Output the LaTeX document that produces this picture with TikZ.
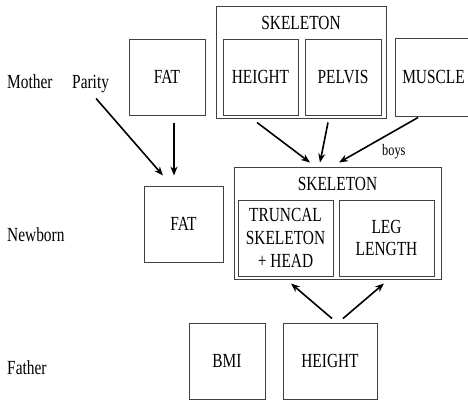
\documentclass[tikz,border=0pt]{standalone}
\usepackage{fontspec}
\setmainfont{Liberation Serif}[FakeStretch=0.77]
\usetikzlibrary{arrows.meta}
\tikzset{
  box/.style={draw=black!75, line width=1pt, inner sep=0pt, align=center,
    font=\fontsize{20}{23.3}\selectfont},
  lbl/.style={inner sep=0pt, font=\fontsize{20}{23.3}\selectfont},
  small/.style={inner sep=0pt, font=\fontsize{16}{18}\selectfont},
  arr/.style={line width=1.6pt, -{Stealth[length=9pt,width=7pt]}}
}
\begin{document}
\begin{tikzpicture}[x=1pt,y=-1pt]
\clip (0,0) rectangle (468,400);
% Mother row
\node[box, minimum width=76pt, minimum height=76pt] (mfat) at (167,77) {FAT};
\node[box, minimum width=170pt, minimum height=112pt] (mskel) at (301,62) {};
\node[lbl, anchor=base] (mskeltxt) at (301,29) {SKELETON};
\node[box, minimum width=75pt, minimum height=76pt] (mheight) at (260.5,77) {HEIGHT};
\node[box, minimum width=76pt, minimum height=76pt] (mpelvis) at (343,77) {PELVIS};
\node[box, minimum width=77pt, minimum height=78pt] (mmuscle) at (433.5,77) {MUSCLE};
% Newborn row
\node[box, minimum width=79pt, minimum height=76pt] (nfat) at (183.5,224) {FAT};
\node[box, minimum width=207pt, minimum height=112pt] (nskel) at (337.5,223) {};
\node[lbl, anchor=base] (nskeltxt) at (337.5,190) {SKELETON};
\node[box, minimum width=95pt, minimum height=76pt] (trunc) at (285.5,238) {TRUNCAL\\SKELETON\\+ HEAD};
\node[box, minimum width=95pt, minimum height=76pt, font=\fontsize{20}{22}\selectfont] (leg) at (386.5,238) {LEG\\LENGTH};
% Father row
\node[box, minimum width=76pt, minimum height=76pt] (bmi) at (227,361) {BMI};
\node[box, minimum width=94pt, minimum height=76pt] (fheight) at (330,361) {HEIGHT};
% Row labels
\node[lbl, anchor=base west] (mother) at (7,88) {Mother};
\node[lbl, anchor=base west] (parity) at (72,88) {Parity};
\node[lbl, anchor=base west] (newborn) at (7,241) {Newborn};
\node[lbl, anchor=base west] (father) at (7,374) {Father};
\node[small, anchor=base west] (boys) at (382,155) {boys};
% Arrows
\draw[arr] ([xshift=5.5pt,yshift=-6pt]parity.south) -- ([xshift=-20.5pt,yshift=10pt]nfat.north);
\draw[arr] ([xshift=7pt,yshift=-7pt]mfat.south) -- ([xshift=-9.5pt,yshift=10pt]nfat.north);
\draw[arr] ([xshift=-3.5pt,yshift=-7pt]mheight.south) -- ([xshift=-27.5pt,yshift=4pt]nskel.north);
\draw[arr] ([xshift=-15pt,yshift=-7pt]mpelvis.south) -- ([xshift=-17.5pt,yshift=4pt]nskel.north);
\draw[arr] ([xshift=-15.5pt,yshift=-1pt]mmuscle.south) -- ([xshift=1.5pt,yshift=4pt]nskel.north);
\draw[arr] ([xshift=2pt,yshift=4pt]fheight.north) -- ([xshift=-46.5pt,yshift=-4pt]nskel.south);
\draw[arr] ([xshift=13pt,yshift=4pt]fheight.north) -- ([xshift=46.5pt,yshift=-4pt]nskel.south);
\end{tikzpicture}
\end{document}
